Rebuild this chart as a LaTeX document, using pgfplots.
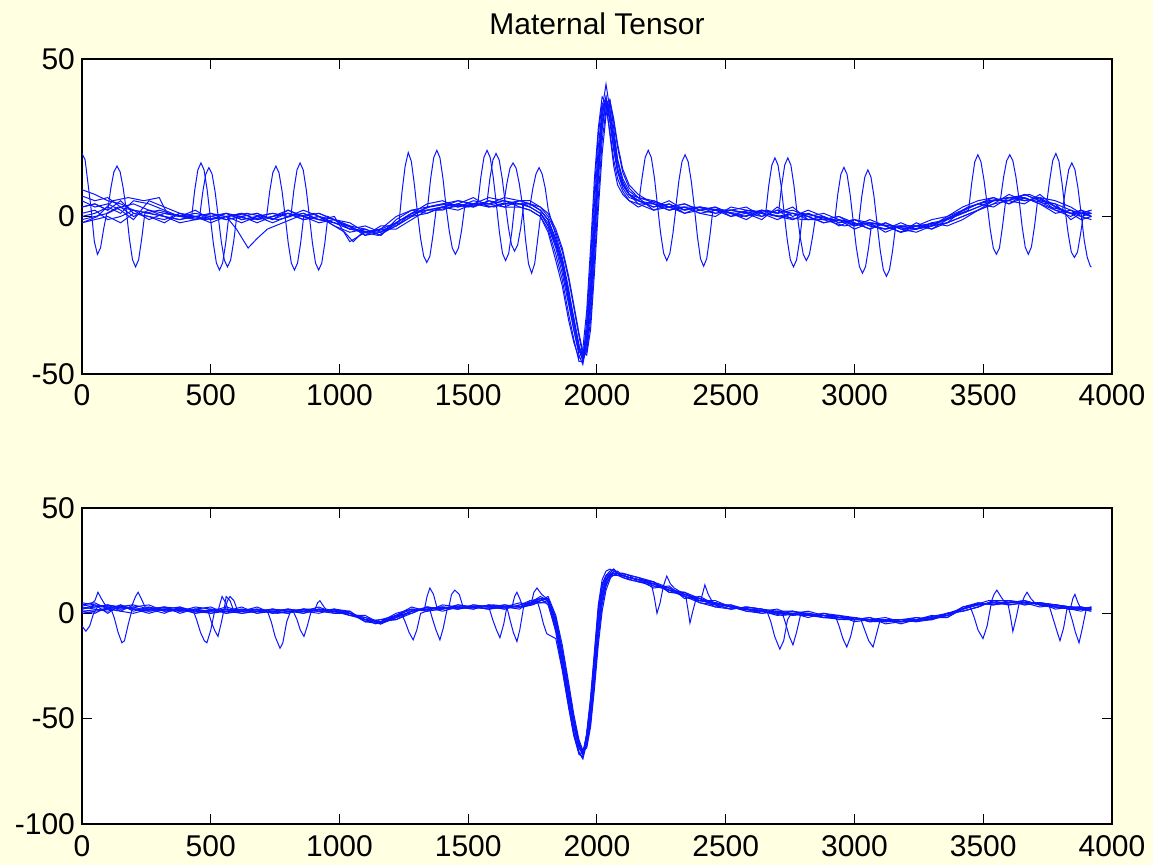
\documentclass[border=0pt]{standalone}
\usepackage{fontspec}
\setmainfont{Liberation Sans}
\usepackage{pgfplots}
\pgfplotsset{compat=1.18}
\usepackage{pgfplotstable}
\definecolor{figbg}{RGB}{255,255,226}
\definecolor{trace}{RGB}{10,20,255}

\pgfplotstableread{
x a b c d e f g h
0 8.5 6.5 3 0 -1 1 5 -2
50 7 5 4 1 0 2 3 -1
100 5 6 2 3 1 -1 4 0
150 4 3 5 1 3 0 2 -2
200 2 4 1 5 0 2 -1 1
260 1 2 0 4 2 -1 5 0
320 0 1 -1 2 0 1 3 -2
380 -1 0 1 0 -2 0 1 1
440 0 -1 0 1 -1 2 -1 0
500 1 0 -2 0 1 -1 0 -1
560 -1 1 0 -1 0 0 1 1
620 0 -1 1 0 -2 1 -1 0
680 1 0 -1 1 0 -1 0 -2
740 -1 1 0 -1 1 0 -2 0
800 2 0 1 1 0 2 0 1
860 0 2 -1 0 1 0 1 -1
920 -1 0 0 -2 -1 1 -1 0
980 -2 -1 -3 -1 -2 -1 0 -2
1040 -4 -3 -5 -2 -4 -3 -8 -3
1100 -5 -6 -4 -5 -3 -6 -5 -4
1160 -4 -5 -6 -4 -5 -3 -4 -6
1220 -2 -3 -1 -4 -2 -3 0 -2
1280 1 0 2 -1 1 0 2 1
1340 2 3 1 2 4 1 3 2
1400 3 4 3 2 5 3 4 3
1460 4 3 5 4 3 4 5 2
1520 3 5 4 3 4 6 4 4
1580 5 4 3 5 4 3 6 4
1640 4 5 4 3 6 4 5 3
1700 4 4 5 3 5 4 3 5
1740 3 4 4 2 5 3 2 4
1780 1 2 3 0 3 1 0 2
1810 -3 -1 0 -4 1 -2 -5 -1
1840 -10 -7 -5 -12 -4 -9 -14 -8
1865 -18 -14 -11 -20 -10 -16 -22 -15
1890 -28 -24 -20 -31 -19 -26 -33 -25
1910 -36 -32 -29 -39 -28 -34 -40 -33
1930 -43 -41 -38 -46 -37 -42 -45 -41
1945 -44 -45 -44 -46 -43 -45 -42 -46
1960 -36 -40 -43 -33 -44 -38 -30 -40
1975 -18 -26 -33 -14 -36 -22 -10 -27
1990 4 -6 -14 8 -18 -1 12 -8
2005 22 14 6 26 2 18 28 12
2020 34 30 24 36 20 32 38 28
2035 37 36 34 35 32 38 36 37
2050 30 33 36 27 37 31 26 34
2065 21 25 30 18 31 22 16 26
2080 14 17 22 12 23 15 10 18
2100 9 11 14 8 15 10 7 12
2125 6 7 9 5 10 7 5 8
2160 5 4 6 4 7 5 3 6
2220 3 4 5 2 4 3 5 2
2280 4 2 3 3 2 5 3 4
2340 2 3 4 1 3 2 4 1
2400 3 1 2 3 1 3 2 2
2460 1 2 3 2 0 2 1 3
2520 2 0 1 2 3 1 2 0
2580 1 2 0 1 2 -1 3 1
2640 0 1 2 -1 1 2 0 2
2700 2 0 1 3 -1 1 2 0
2760 1 -1 2 0 1 3 -1 1
2820 -1 1 0 2 0 -1 1 0
2880 0 -1 -2 0 1 0 -1 -2
2940 -2 0 -1 -3 -1 -2 0 -1
3000 -1 -3 -2 -1 -3 -1 -2 -4
3060 -3 -2 -4 -2 -1 -3 -4 -2
3120 -4 -3 -2 -5 -3 -4 -2 -3
3180 -3 -5 -4 -3 -5 -2 -4 -5
3240 -4 -3 -5 -4 -2 -4 -3 -4
3300 -2 -4 -3 -2 -4 -3 -1 -3
3360 -1 -2 0 -3 -1 -2 0 -2
3420 1 0 2 -1 1 2 3 0
3480 3 2 4 2 3 4 5 2
3540 5 4 6 4 5 3 6 5
3600 6 5 4 7 5 6 4 6
3660 5 7 6 5 4 6 7 5
3720 6 5 4 6 7 4 5 6
3780 3 4 2 5 3 1 4 2
3840 1 2 0 3 1 2 -1 1
3880 0 1 2 1 -1 0 1 2
3920 1 0 1 2 0 -1 2 0
}\toptab

\pgfplotstableread{
x a b c d e f g h
0 5 4 2 0 3 1 4 2
50 4 5 3 1 2 0 3 4
100 3 2 4 2 1 3 4 0
150 2 4 3 1 3 2 1 4
200 3 1 2 4 2 3 0 2
260 1 3 2 2 0 4 2 1
320 2 1 0 3 2 1 3 2
380 1 2 3 0 1 2 1 3
440 2 0 1 2 3 1 2 0
500 0 2 1 1 2 0 3 1
560 1 0 2 3 1 2 0 1
620 2 1 0 1 0 1 2 3
680 0 2 1 2 1 3 1 0
740 1 0 2 1 2 0 1 2
800 2 1 1 0 1 2 0 1
860 0 2 1 2 0 1 2 1
920 2 1 3 1 2 0 1 2
980 1 2 0 2 1 2 0 1
1040 0 -1 1 0 -1 1 0 -1
1100 -3 -2 -4 -3 -1 -4 -2 -3
1160 -4 -5 -3 -4 -5 -3 -4 -5
1220 -2 -1 -3 0 -2 -1 -3 -1
1280 1 2 0 2 1 3 1 0
1340 2 1 3 2 3 1 2 3
1400 3 2 1 3 2 4 3 2
1460 2 4 3 2 4 3 2 3
1520 4 3 2 3 3 2 4 3
1580 3 2 4 3 2 4 3 2
1640 2 3 3 4 3 2 3 4
1700 4 3 2 3 5 4 3 3
1740 5 4 6 5 4 6 5 5
1780 7 6 5 8 6 7 5 6
1810 6 7 5 6 8 4 6 7
1840 -6 -2 -9 -4 -1 -8 -5 -3
1865 -22 -17 -26 -20 -15 -25 -21 -19
1890 -40 -35 -44 -38 -33 -43 -39 -37
1910 -54 -50 -58 -52 -48 -57 -53 -51
1930 -64 -61 -67 -63 -60 -66 -64 -62
1945 -67 -66 -68 -65 -65 -69 -66 -67
1960 -60 -63 -57 -61 -64 -58 -60 -62
1975 -46 -52 -41 -48 -54 -43 -47 -50
1990 -26 -33 -20 -28 -36 -22 -27 -30
2005 -4 -12 2 -6 -15 0 -5 -9
2020 10 4 14 8 1 12 9 6
2035 16 13 18 15 11 17 16 14
2050 18 17 20 18 16 19 18 17
2065 19 19 21 18 20 19 20 18
2080 18 19 19 18 20 18 19 19
2100 18 17 19 17 18 18 17 19
2125 17 16 18 16 17 17 18 16
2160 16 15 17 15 16 16 15 17
2220 14 13 15 14 12 15 14 13
2280 11 12 10 11 13 10 12 11
2340 8 9 10 8 7 9 8 10
2400 6 7 5 6 8 6 5 7
2460 5 4 3 5 4 6 4 3
2520 3 2 4 3 2 3 4 2
2580 2 3 1 2 3 1 2 3
2640 1 2 0 1 2 1 0 2
2700 0 1 1 -1 0 2 1 0
2760 0 -1 1 0 1 -1 0 1
2820 -1 0 -1 1 -1 0 -2 0
2880 -1 -2 0 -1 -2 -1 0 -2
2940 -2 -1 -2 -3 -1 -2 -1 -2
3000 -3 -2 -3 -2 -4 -2 -3 -2
3060 -3 -4 -2 -3 -3 -4 -2 -4
3120 -4 -3 -4 -3 -2 -4 -5 -3
3180 -3 -4 -3 -5 -4 -3 -4 -3
3240 -3 -2 -4 -3 -3 -2 -3 -4
3300 -2 -3 -2 -2 -3 -3 -1 -3
3360 -1 0 -2 -1 0 -1 -2 0
3420 2 1 3 2 1 3 2 1
3480 4 3 5 4 3 4 5 3
3540 5 6 4 5 6 5 4 6
3600 5 4 6 5 6 4 5 6
3660 6 5 4 6 5 5 6 4
3720 4 5 5 4 5 3 4 5
3780 3 4 3 4 2 4 3 4
3840 2 3 2 3 3 2 2 3
3880 3 2 2 3 2 3 1 2
3920 2 3 1 2 2 2 3 1
}\bottab

\pgfplotsset{
  myax/.style={
    scale only axis, width=515pt, height=157.5pt,
    xmin=0, xmax=4000, xtick={0,500,...,4000},
    axis background/.style={fill=white},
    tick align=inside, major tick length=5pt,
    ticklabel style={font=\fontsize{15}{17}\selectfont},
    xticklabel shift=2pt,
    /pgf/number format/assume math mode=true,
    /pgf/number format/1000 sep={},
    tick style={black, line width=0.5pt},
    axis line style={black, line width=0.6pt},
    scaled ticks=false,
  },
  tr/.style={trace, line width=0.5pt},
}

\begin{document}
\begin{tikzpicture}[x=1pt,y=1pt]
\useasboundingbox (0,0) rectangle (576.5,432.5);
\fill[figbg] (0,0) rectangle (576.5,432.5);

\begin{axis}[myax, at={(41pt,245.5pt)}, anchor=south west,
  ymin=-50, ymax=50, ytick={-50,0,50},
  title={Maternal Tensor},
  title style={at={(0.5,1)}, anchor=base, yshift=6pt, font=\fontsize{15}{17}\selectfont}]
\pgfplotsinvokeforeach{a,b,c,d,e,f,g,h}{\addplot[tr] table[x=x,y=#1]{\toptab};}
\addplot[tr] coordinates {(0,20) (12,18) (24,10) (36,2) (48,-8) (60,-12) (72,-10) (84,-4) (96,1) (140,3) (200,2) (260,1) (320,0) (380,-1) (426,0) (438,8.5) (450,14.8) (462,17) (474,14.8) (486,8.5) (498,0) (510,-8.5) (522,-14.8) (534,-17) (546,-14.8) (558,-8.5) (570,0) (640,1) (700,0) (760,-1) (811,0) (823,8.5) (835,14.8) (847,17) (859,14.8) (871,8.5) (883,0) (895,-8.5) (907,-14.8) (919,-17) (931,-14.8) (943,-8.5) (955,0) (1000,-2) (1060,-4) (1120,-5) (1180,-4) (1240,-1) (1300,1) (1342,3) (1354,12) (1366,18.7) (1378,21) (1390,18.7) (1402,12) (1414,3) (1426,-4.5) (1438,-10) (1450,-12) (1462,-10) (1474,-4.5) (1486,3) (1540,4) (1600,3) (1638,4) (1650,10.5) (1662,15.3) (1674,17) (1686,15.3) (1698,10.5) (1710,4) (1722,-7) (1734,-15) (1746,-18) (1758,-15) (1770,-7) (1782,1) (1810,-3) (1840,-9) (1865,-16) (1890,-26) (1910,-34) (1930,-42) (1945,-45) (1960,-38) (1975,-22) (1990,-1) (2005,18) (2020,32) (2035,38) (2050,31) (2065,22) (2080,15) (2100,10) (2125,7) (2160,5) (2220,4) (2280,3) (2306,3) (2318,11.3) (2330,17.4) (2342,19.6) (2354,17.4) (2366,11.3) (2378,3) (2390,-6.4) (2402,-13.4) (2414,-15.8) (2426,-13.4) (2438,-6.4) (2450,2) (2520,2) (2600,1) (2660,2) (2705,1) (2717,9.8) (2729,16.3) (2741,18.6) (2753,16.3) (2765,9.8) (2777,1) (2789,-6.5) (2801,-12) (2813,-14) (2825,-12) (2837,-6.5) (2849,0) (2920,-1) (2980,-2) (3016,-2.5) (3028,6.2) (3040,12.5) (3052,14.8) (3064,12.5) (3076,6.2) (3088,-2.5) (3100,-10.8) (3112,-16.9) (3124,-19) (3136,-16.9) (3148,-10.8) (3160,-3) (3240,-3) (3320,-2) (3400,1) (3480,4) (3540,5) (3567,5.5) (3579,12.5) (3591,17.7) (3603,19.6) (3615,17.7) (3627,12.5) (3639,5.5) (3651,-3.2) (3663,-9.7) (3675,-12) (3687,-9.7) (3699,-3.2) (3711,5) (3760,3) (3808,2) (3820,9) (3832,14.9) (3844,17) (3856,14.9) (3868,9) (3880,1) (3892,-7.5) (3904,-13) (3916,-15.8) (3920,-16)};
\addplot[tr] coordinates {(0,3) (50,4) (100,2) (112,9) (124,14.2) (136,16) (148,14.2) (160,9) (172,2) (184,-7) (196,-13.7) (208,-16) (220,-13.7) (232,-7) (244,1) (300,2) (380,0) (457,0) (469,7.8) (481,13.5) (493,15.5) (505,13.5) (517,7.8) (529,0) (541,-8) (553,-13.9) (565,-16) (577,-13.9) (589,-8) (601,0) (660,-1) (717,0) (729,8) (741,13.9) (753,16) (765,13.9) (777,8) (789,0) (801,-8.5) (813,-14.8) (825,-17) (837,-14.8) (849,-8.5) (861,0) (920,1) (980,-1) (1040,-4) (1100,-5) (1160,-5) (1200,-3) (1231,-2) (1243,8) (1255,16) (1267,20.3) (1279,17.5) (1291,10) (1303,1) (1315,-7) (1327,-12.6) (1339,-14.6) (1351,-12.6) (1363,-6) (1375,2) (1440,3) (1500,4) (1537,4) (1549,12.5) (1561,18.8) (1573,21) (1585,18.8) (1597,12.5) (1609,4) (1621,-5) (1633,-11.7) (1645,-14) (1657,-11.7) (1669,-5) (1681,4) (1740,4) (1780,2) (1810,-1) (1840,-8) (1865,-15) (1890,-27) (1910,-36) (1930,-44) (1945,-47) (1960,-40) (1975,-24) (1990,-4) (2005,16) (2020,34) (2035,42) (2050,34) (2065,24) (2080,15) (2100,10) (2125,7) (2163,5) (2175,12.3) (2187,18.7) (2199,21) (2211,18.7) (2223,12.3) (2235,3.5) (2247,-5.3) (2259,-11.7) (2271,-14) (2283,-11.7) (2295,-5.3) (2307,3) (2380,3) (2460,2) (2540,1) (2600,2) (2655,1) (2667,9.8) (2679,16.3) (2691,18.6) (2703,16.3) (2715,9.8) (2727,1) (2739,-7.5) (2751,-13.8) (2763,-16) (2775,-13.8) (2787,-7.5) (2799,1) (2860,0) (2923,-1.5) (2935,7) (2947,13.4) (2959,15.6) (2971,13.4) (2983,7) (2995,-1.5) (3007,-9.8) (3019,-15.9) (3031,-18) (3043,-15.9) (3055,-9.8) (3067,-2) (3140,-3) (3220,-4) (3300,-3) (3380,0) (3443,2) (3455,10.5) (3467,17.3) (3479,19.6) (3491,17.4) (3503,11.5) (3515,4) (3527,-4) (3539,-10) (3551,-12) (3563,-10) (3575,-3) (3587,5) (3640,6) (3700,5) (3746,4) (3758,11.5) (3770,17.8) (3782,20) (3794,17.5) (3806,10.5) (3818,2) (3830,-5.5) (3842,-11.3) (3854,-13) (3866,-11.3) (3878,-5.5) (3890,1) (3920,0)};
\addplot[tr] coordinates {(0,-2) (60,0) (120,5) (180,6) (240,5) (300,6) (330,1) (400,0) (480,-1) (560,0) (600,-4) (630,-8) (645,-10) (680,-7) (720,-4) (780,-2) (840,0) (900,1) (960,-2) (1020,-5) (1053,-8) (1090,-5) (1150,-6) (1220,-3) (1280,1) (1350,3) (1420,4) (1500,3) (1560,4) (1572,4) (1584,12) (1596,18) (1608,20) (1620,18) (1632,12) (1644,4) (1656,-3.5) (1668,-9) (1680,-11) (1692,-9) (1704,-3.5) (1716,4) (1739,3) (1751,9) (1763,13.5) (1775,15.5) (1787,13.5) (1799,9) (1811,2) (1840,-6) (1865,-13) (1890,-23) (1910,-33) (1930,-41) (1945,-46) (1960,-42) (1975,-30) (1990,-10) (2005,12) (2020,28) (2035,36) (2050,37) (2065,28) (2080,18) (2100,11) (2125,7) (2160,6) (2240,4) (2320,2) (2400,3) (2480,2) (2560,0) (2640,1) (2720,0) (2800,-1) (2880,-1) (2960,-3) (3040,-2) (3120,-4) (3200,-3) (3280,-3) (3360,-1) (3440,3) (3520,5) (3600,6) (3680,7) (3760,4) (3840,1) (3920,1)};
\end{axis}

\begin{axis}[myax, at={(41pt,20.5pt)}, anchor=south west, height=158pt,
  ymin=-100, ymax=50, ytick={-100,-50,0,50}]
\pgfplotsinvokeforeach{a,b,c,d,e,f,g,h}{\addplot[tr] table[x=x,y=#1]{\bottab};}
\addplot[tr] coordinates {(0,-6) (15,-8.5) (30,-6) (45,0) (60,3) (110,3) (125,-2) (140,-9) (155,-14) (165,-13) (180,-5) (195,2) (260,2) (340,1) (430,2) (445,-3) (460,-9) (475,-13) (485,-14) (500,-8) (515,1) (555,2) (565,6) (575,8) (590,6) (605,1) (660,1) (720,1) (735,-4) (750,-11) (769,-16.6) (780,-14) (795,-4) (810,1) (860,2) (905,2) (915,5) (924,6) (940,3) (955,1) (1040,0) (1100,-3) (1160,-4) (1220,-1) (1240,0) (1255,-4) (1270,-9) (1286,-12.6) (1300,-8) (1315,0) (1360,2) (1425,3) (1435,9) (1448,11) (1465,9) (1480,3) (1540,3) (1580,3) (1595,-3) (1610,-8) (1623,-11.6) (1638,-5) (1650,3) (1700,3) (1745,5) (1755,10) (1767,12) (1785,9) (1805,7) (1840,-7) (1865,-23) (1890,-42) (1910,-56) (1930,-66) (1945,-69) (1960,-62) (1975,-48) (1990,-28) (2005,-6) (2020,9) (2035,16) (2050,19) (2065,21) (2080,19) (2100,18) (2125,17) (2160,16) (2200,15) (2210,14.5) (2222,8) (2233,0) (2245,5) (2258,13) (2271,17.7) (2285,14) (2300,12) (2340,9) (2400,7) (2460,5) (2540,3) (2620,1) (2660,1) (2675,-4) (2690,-11) (2710,-17) (2725,-13) (2740,-3) (2755,0) (2840,-1) (2925,-1) (2940,-6) (2955,-12) (2970,-16) (2985,-11) (3000,-3) (3080,-3) (3180,-4) (3280,-3) (3360,-1) (3420,2) (3450,3) (3465,-2) (3480,-8) (3499,-12) (3515,-6) (3530,4) (3600,5) (3650,5) (3660,8) (3670,10) (3685,7) (3700,5) (3755,4) (3770,-2) (3785,-8) (3798,-13) (3812,-7) (3825,2) (3880,2) (3920,3)};
\addplot[tr] coordinates {(0,4) (40,5) (50,6) (62,10) (75,7) (90,4) (140,3) (195,4) (208,8) (218,10) (230,7) (245,3) (320,2) (400,1) (490,1) (502,-4) (515,-8) (528,-11) (540,-5) (552,2) (560,8) (575,6) (590,1) (680,1) (760,0) (820,1) (835,-3) (848,-8) (862,-11) (875,-6) (890,1) (960,1) (1040,0) (1100,-4) (1160,-5) (1220,-2) (1280,1) (1330,2) (1340,8) (1351,12) (1365,9) (1380,2) (1460,3) (1560,3) (1650,3) (1662,-3) (1675,-9) (1689,-13.4) (1700,-8) (1715,3) (1750,5) (1780,7) (1810,7) (1840,-4) (1865,-19) (1890,-37) (1910,-51) (1930,-62) (1945,-66) (1960,-58) (1975,-43) (1990,-22) (2005,0) (2020,13) (2035,18) (2050,19) (2065,19) (2080,18) (2100,18) (2125,17) (2160,16) (2220,14) (2280,11) (2345,8) (2353,2) (2361,-4.6) (2372,1) (2385,7) (2405,7) (2419,13.5) (2432,9) (2450,5) (2520,3) (2600,2) (2680,1) (2720,0) (2733,-5) (2747,-11) (2761,-15) (2775,-9) (2790,-1) (2880,-1) (2960,-2) (3025,-3) (3040,-8) (3055,-13) (3072,-16) (3085,-10) (3100,-3) (3200,-4) (3300,-2) (3400,1) (3460,4) (3530,5) (3542,9) (3553,11) (3568,8) (3585,5) (3595,5) (3605,-1) (3615,-8.6) (3628,-2) (3640,5) (3720,5) (3780,4) (3830,3) (3845,-3) (3858,-9) (3872,-14) (3885,-7) (3900,2) (3920,2)};
\addplot[tr] coordinates {(0,1) (80,2) (160,3) (240,1) (320,3) (400,2) (480,1) (530,2) (544,8) (558,5) (570,1) (660,2) (740,1) (800,2) (860,1) (940,2) (1020,1) (1080,-2) (1140,-5) (1200,-3) (1260,1) (1350,2) (1362,-3) (1375,-8) (1390,-12.6) (1403,-7) (1418,2) (1500,3) (1600,4) (1670,3) (1680,8) (1689,10) (1700,7) (1712,3) (1750,4) (1770,5) (1780,1) (1792,-5) (1805,-9.7) (1840,-12) (1865,-27) (1890,-45) (1910,-58) (1930,-66) (1945,-67) (1960,-57) (1975,-40) (1990,-18) (2005,4) (2020,16) (2035,20) (2050,21) (2065,20) (2080,19) (2100,19) (2160,17) (2240,14) (2320,10) (2400,6) (2480,4) (2560,2) (2640,1) (2720,-1) (2800,0) (2880,-2) (2960,-3) (3040,-3) (3120,-4) (3200,-4) (3280,-2) (3360,0) (3440,3) (3520,6) (3600,6) (3680,5) (3760,3) (3840,3) (3848,7) (3856,9) (3868,5) (3880,2) (3920,2)};
\end{axis}
\end{tikzpicture}
\end{document}
